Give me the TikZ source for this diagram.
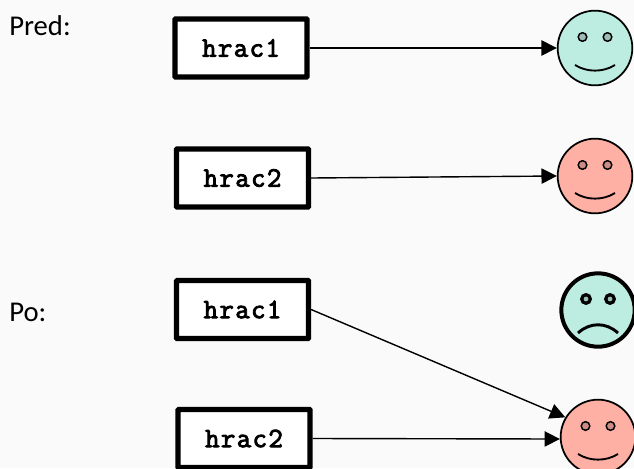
\documentclass[tikz,border=0pt]{standalone}
\usepackage{fontspec}
\setmainfont{Carlito}
\newfontfamily\boxfont[FakeBold=3.2,LetterSpace=5]{Latin Modern Mono}
\usetikzlibrary{arrows.meta}
\definecolor{bgc}{HTML}{FAFAFA}
\definecolor{teal}{HTML}{BDEDE0}
\definecolor{pink}{HTML}{FFB0A5}
\definecolor{teald}{HTML}{9DBDB4}
\definecolor{pinkd}{HTML}{CC8D84}
\tikzset{
  x=0.75pt,y=-0.75pt,
  playerbox/.style={draw=black,line width=3.9pt,fill=white,rounded corners=0.5pt,inner sep=0pt,
     text width=99pt,align=center,minimum height=43.5pt,font=\boxfont\fontsize{21}{23}\selectfont},
  face/.style={circle,draw=black,line width=1.3pt,inner sep=0pt,minimum size=56pt},
  facebold/.style={circle,draw=black,line width=3pt,inner sep=0pt,minimum size=55pt},
  lab/.style={font=\fontsize{21.5}{24}\selectfont,anchor=west,inner sep=0pt},
  conn/.style={draw=black,line width=1.05pt,-{Triangle[length=11.5pt,width=11.5pt]}},
}
\begin{document}
\begin{tikzpicture}
\useasboundingbox (0,0) rectangle (634,468);
\clip (0,0) rectangle (634,468);
\fill[bgc] (0,0) rectangle (634,468);
\node[lab] (pred) at (9,26) {Pred:};
\node[lab] (po) at (9,312) {Po:};
\node[playerbox] (b1) at (241,48) {hrac1};
\node[playerbox] (b2) at (242.5,178) {hrac2};
\node[playerbox] (b3) at (242.5,309.5) {hrac1};
\node[playerbox] (b4) at (244,438.5) {hrac2};
\node[face,fill=teal] (f1) at (595,48) {};
\node[face,fill=pink] (f2) at (595,176) {};
\node[facebold,fill=teal] (f3) at (598,310) {};
\node[face,fill=pink] (f4) at (598,437) {};
% eyes and mouths
\foreach \f/\c in {f1/teald,f2/pinkd,f4/pinkd}{
  \begin{scope}[shift={(\f.center)}]
  \draw[line width=1.1pt,fill=\c] (-12.5,-11) circle[radius=4.3];
  \draw[line width=1.1pt,fill=\c] (12.5,-11) circle[radius=4.3];
  \draw[line width=1.4pt] (-20,17) .. controls (-8,24.5) and (8,24.5) .. (20,17);
  \end{scope}
}
\begin{scope}[shift={(f3.center)}]
\draw[line width=2.4pt,fill=teald] (-12,-11) circle[radius=4.3];
\draw[line width=2.4pt,fill=teald] (12,-11) circle[radius=4.3];
\draw[line width=2.2pt] (-20,23) .. controls (-8,12) and (8,12) .. (20,23);
\end{scope}
\draw[conn] (b1.east) -- (f1.west);
\draw[conn] (b2.east) -- (f2.west);
\draw[conn] (b3.east) -- (f4.149);
\draw[conn] (b4.east) -- (f4.183);
\end{tikzpicture}
\end{document}
